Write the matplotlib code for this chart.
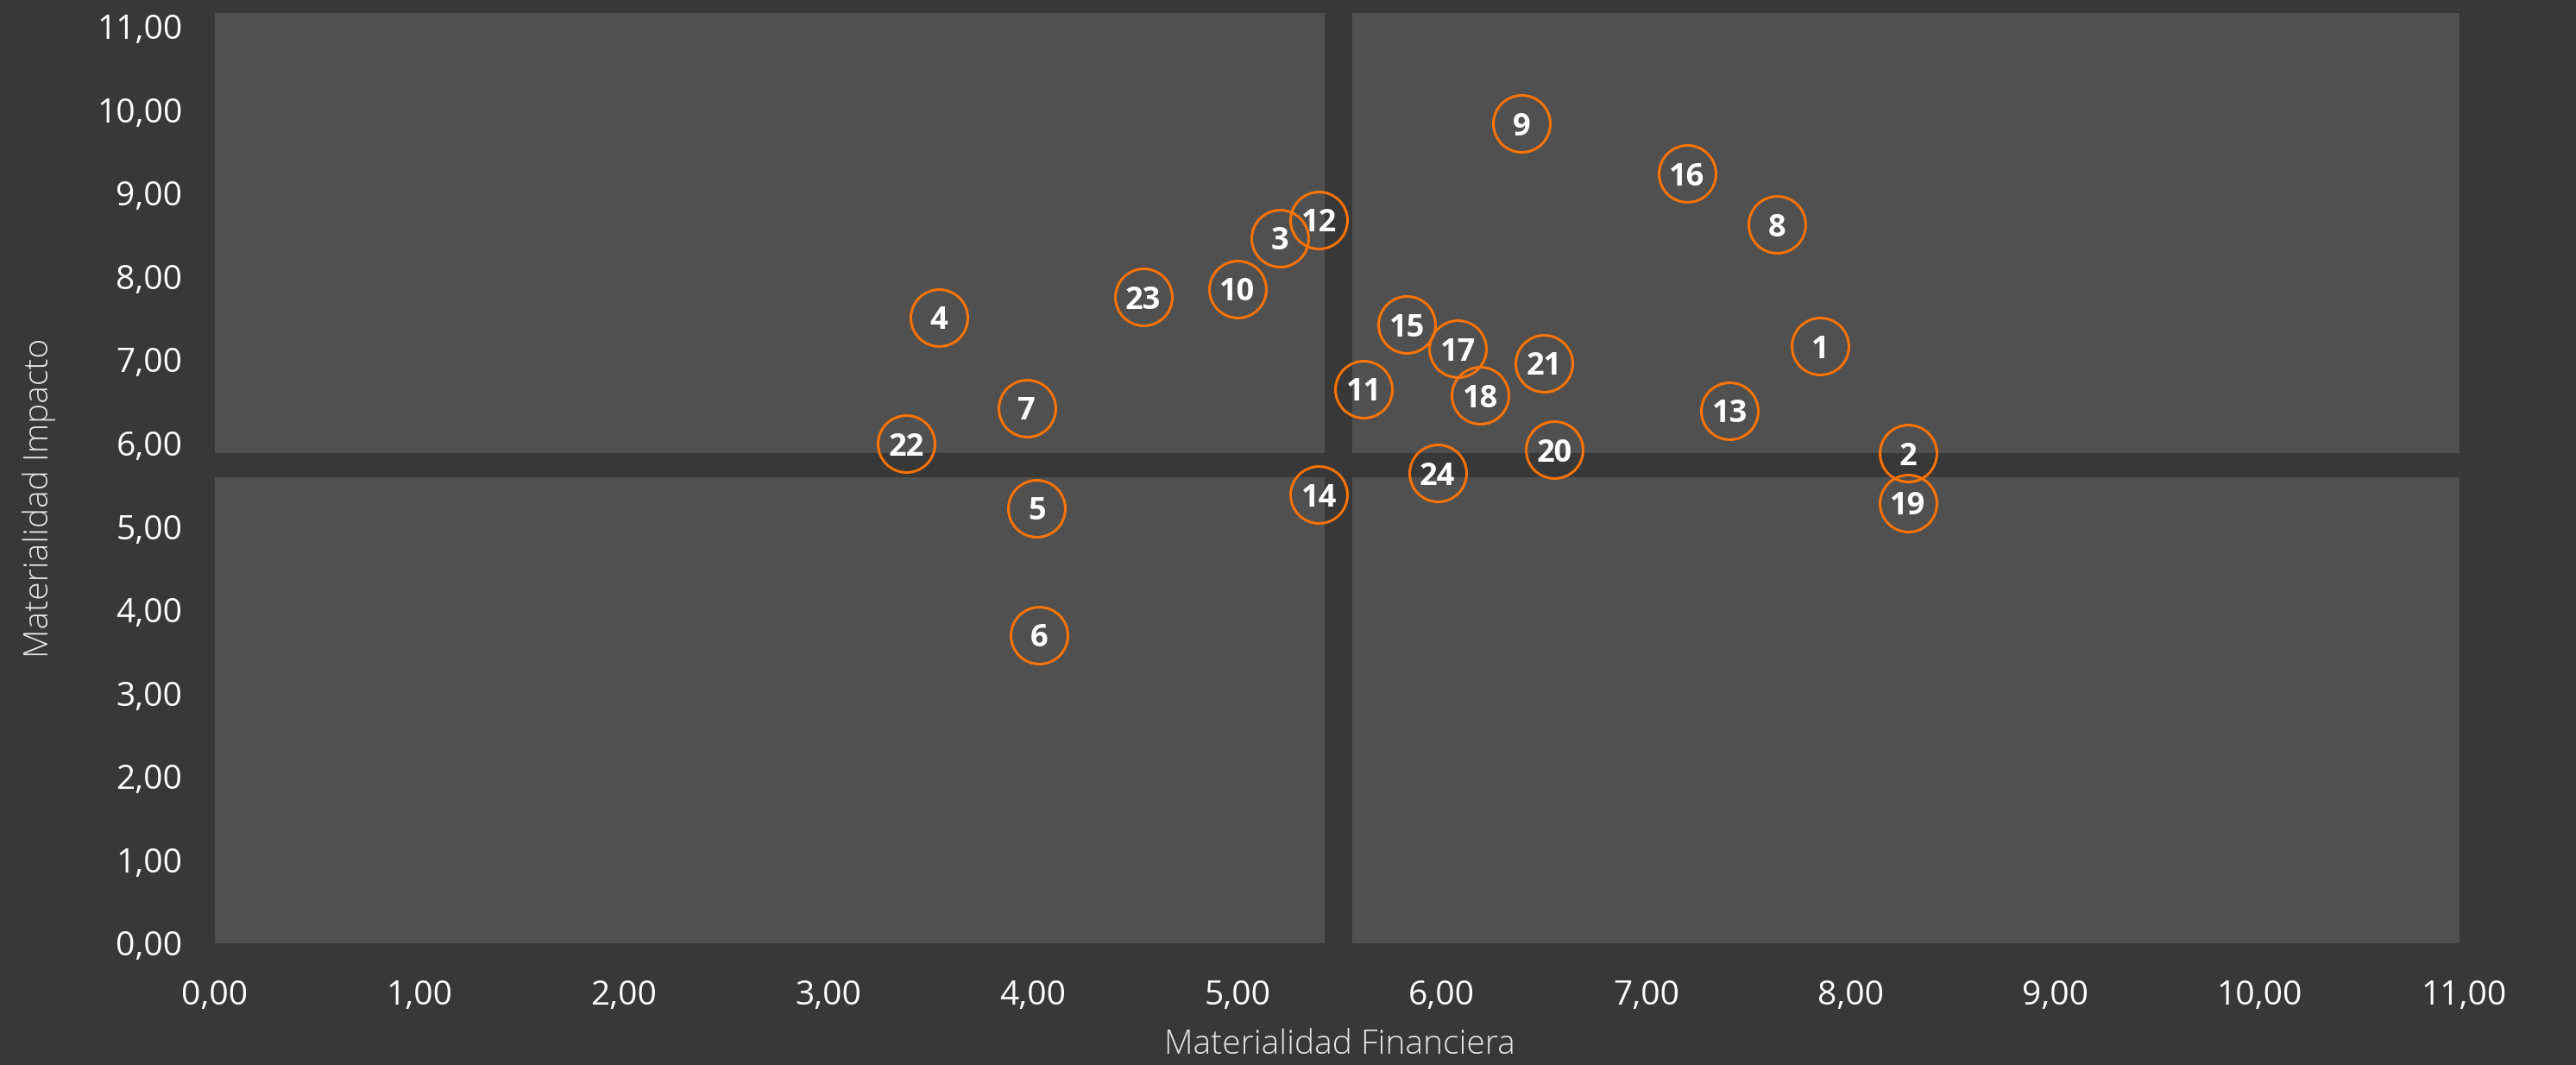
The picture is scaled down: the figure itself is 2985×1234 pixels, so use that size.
import matplotlib
matplotlib.use("Agg")
import matplotlib.pyplot as plt
from matplotlib.patches import Rectangle
from matplotlib.ticker import FuncFormatter

# ---- data ----
ids = [str(i) for i in range(1, 25)]
fin = [7.85, 8.28, 5.21, 3.54, 4.02, 4.03, 3.97, 7.64, 6.39, 5.00, 5.62, 5.40,
       7.41, 5.40, 5.83, 7.20, 6.08, 6.19, 8.28, 6.55, 6.50, 3.38, 4.54, 5.98]
imp = [7.16, 5.88, 8.46, 7.51, 5.22, 3.70, 6.42, 8.62, 9.83, 7.85, 6.65, 8.68,
       6.39, 5.38, 7.42, 9.23, 7.13, 6.57, 5.28, 5.92, 6.96, 5.99, 7.75, 5.64]
ticks = list(range(0, 12))
xlabel = "Materialidad Financiera"
ylabel = "Materialidad Impacto"

BG = "#383838"
QUAD = "#505050"
ORANGE = "#FF7300"

plt.rcParams['font.family'] = ['Open Sans', 'DejaVu Sans']

W, H = 2985, 1234
fig = plt.figure(figsize=(W / 100, H / 100), dpi=100, facecolor=BG)
ax = fig.add_axes([249 / W, (H - 1093) / H, 2606 / W, 1078 / H])
ax.set_facecolor(BG)
ax.set_xlim(0, 11)
ax.set_ylim(0, 11.16)

# quadrant backgrounds
gx0, gx1 = 5.43, 5.564
gy0, gy1 = 5.59, 5.88
xr, yt = 10.98, 11.16
for (x0, y0, x1, y1) in [(0, 0, gx0, gy0), (0, gy1, gx0, yt),
                         (gx1, 0, xr, gy0), (gx1, gy1, xr, yt)]:
    ax.add_patch(Rectangle((x0, y0), x1 - x0, y1 - y0, facecolor=QUAD,
                           edgecolor='none', zorder=0))

ax.plot(fin, imp, linestyle='none', marker='o', markersize=47.5,
        markerfacecolor='none', markeredgecolor=ORANGE, markeredgewidth=2.2,
        zorder=3)
for i, x, y in zip(ids, fin, imp):
    ax.text(x, y, i, ha='center', va='center_baseline', color='white',
            fontsize=26, fontweight='bold', zorder=4)

for s in ax.spines.values():
    s.set_visible(False)
fmt = FuncFormatter(lambda v, p: f"{v:.2f}".replace('.', ','))
ax.set_xticks(ticks)
ax.set_yticks(ticks)
ax.xaxis.set_major_formatter(fmt)
ax.yaxis.set_major_formatter(fmt)
ax.tick_params(axis='both', length=0, labelsize=28, labelcolor='white')
ax.tick_params(axis='x', pad=30)
ax.tick_params(axis='y', pad=27)

ax.set_xlabel(xlabel, fontsize=28, color='#E6E6E6', fontweight='light')
ax.set_ylabel(ylabel, fontsize=28, color='#E6E6E6', fontweight='light')
ax.xaxis.set_label_coords(0.5, -0.1095)
ax.xaxis.label.set_va('center')
ax.yaxis.set_label_coords(-0.0779, 0.479)
ax.yaxis.label.set_va('center')

fig.savefig("out.png", dpi=100, facecolor=BG)
